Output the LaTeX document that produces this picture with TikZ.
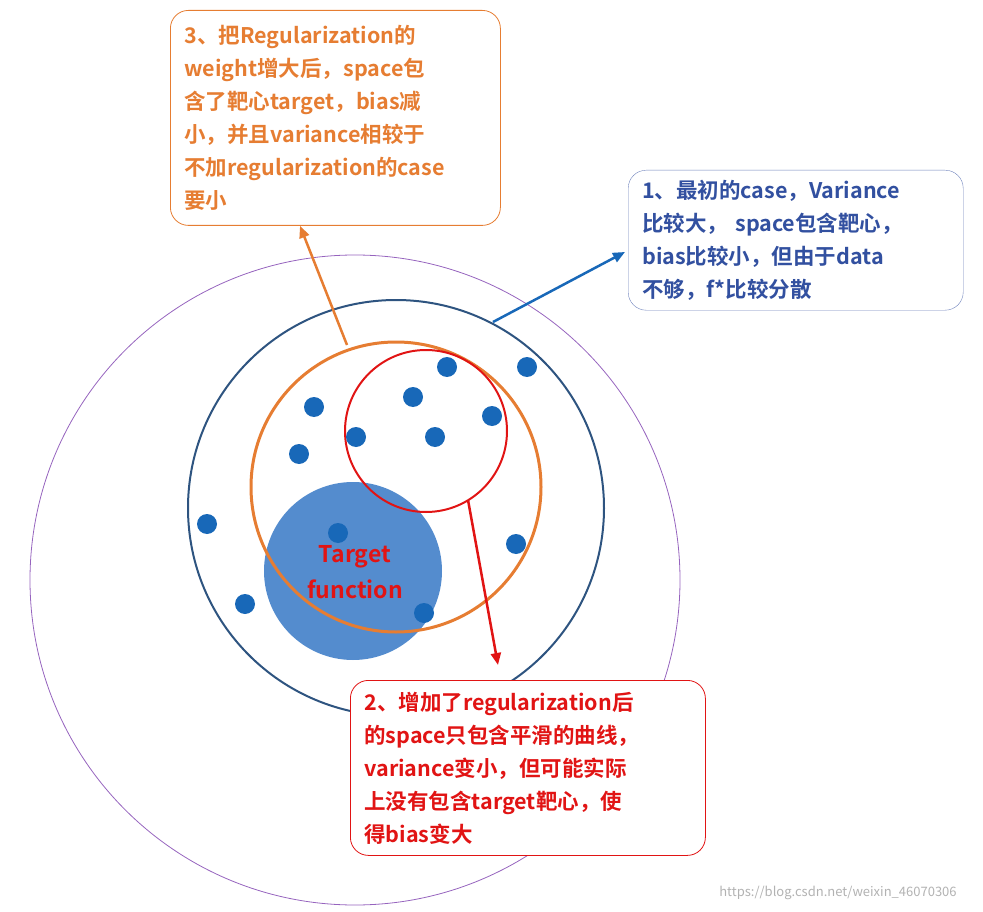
\documentclass[tikz,border=0pt]{standalone}
\usepackage{fontspec}
\setmainfont{Noto Sans CJK SC}[BoldFont={Noto Sans CJK SC Bold}]
\usetikzlibrary{arrows.meta,positioning,calc}
\definecolor{spaceblue}{RGB}{46,84,128}
\definecolor{dotblue}{RGB}{24,104,184}
\definecolor{targetblue}{RGB}{84,140,206}
\definecolor{noteorange}{RGB}{230,125,50}
\definecolor{notered}{RGB}{225,20,20}
\definecolor{noteblue}{RGB}{50,80,160}
\definecolor{ringpurple}{RGB}{150,100,190}
\tikzset{
  dot/.style={circle, fill=dotblue, minimum size=20pt, inner sep=0pt},
  note/.style={rounded corners=18pt, draw, thick, fill=white, align=left, font=\bfseries\fontsize{21.5}{33}\selectfont, inner xsep=14pt, inner ysep=8pt, anchor=north west},
  pointer/.style={-{Triangle[length=12pt,width=10pt]}, line width=2.5pt}
}
\begin{document}
\begin{tikzpicture}[x=1pt,y=-1pt]
  \useasboundingbox (0,0) rectangle (983,912);
  % spaces
  \draw[ringpurple, thick] (355,580) circle (325);
  \draw[spaceblue, line width=2pt] (396,508) circle (208);
  \node[circle, fill=targetblue, minimum size=178pt, inner sep=0pt] (target) at (353,571) {};
  \draw[noteorange, line width=3pt] (396,487) circle (145);
  \draw[notered, line width=2pt] (426,431) circle (81);
  \node[text=notered, font=\bfseries\fontsize{23}{36}\selectfont, align=center] (tlabel) at (355,572) {Target\\function};
  % samples f*
  \foreach \x/\y [count=\i] in {447/367,527/367,314/407,413/397,492/416,356/437,435/437,299/454,207/524,338/533,516/544,245/604,424/613}
    \node[dot] (d\i) at (\x,\y) {};
  % notes
  \node[note, draw=noteorange, text=noteorange, text width=302pt, minimum height=215pt] (n3) at (170,10)
    {3、把Regularization的\\weight增大后，space包\\含了靶心target，bias减\\小，并且variance相较于\\不加regularization的case\\要小};
  \node[note, draw=noteblue!70, text=noteblue, text width=307pt, minimum height=140pt, thin] (n1) at (628,170)
    {1、最初的case，Variance\\比较大， space包含靶心，\\bias比较小，但由于data\\不够，f*比较分散};
  \node[note, draw=notered, text=notered, text width=327pt, minimum height=175pt] (n2) at (350,680)
    {2、增加了regularization后\\的space只包含平滑的曲线，\\variance变小，但可能实际\\上没有包含target靶心，使\\得bias变大};
  % pointers
  \coordinate (p3) at (347,345);
  \coordinate (p1) at (493,322);
  \coordinate (p2) at (468,500);
  \draw[pointer, noteorange] (p3) -- (n3.south west -| 300,0);
  \draw[pointer, dotblue] (p1) -- (625,252);
  \draw[pointer, notered] (p2) -- (498,665);
  \node[text=gray!60, font=\fontsize{13}{15}\selectfont] (wm) at (838,893) {https://blog.csdn.net/weixin\_46070306};
\end{tikzpicture}
\end{document}
